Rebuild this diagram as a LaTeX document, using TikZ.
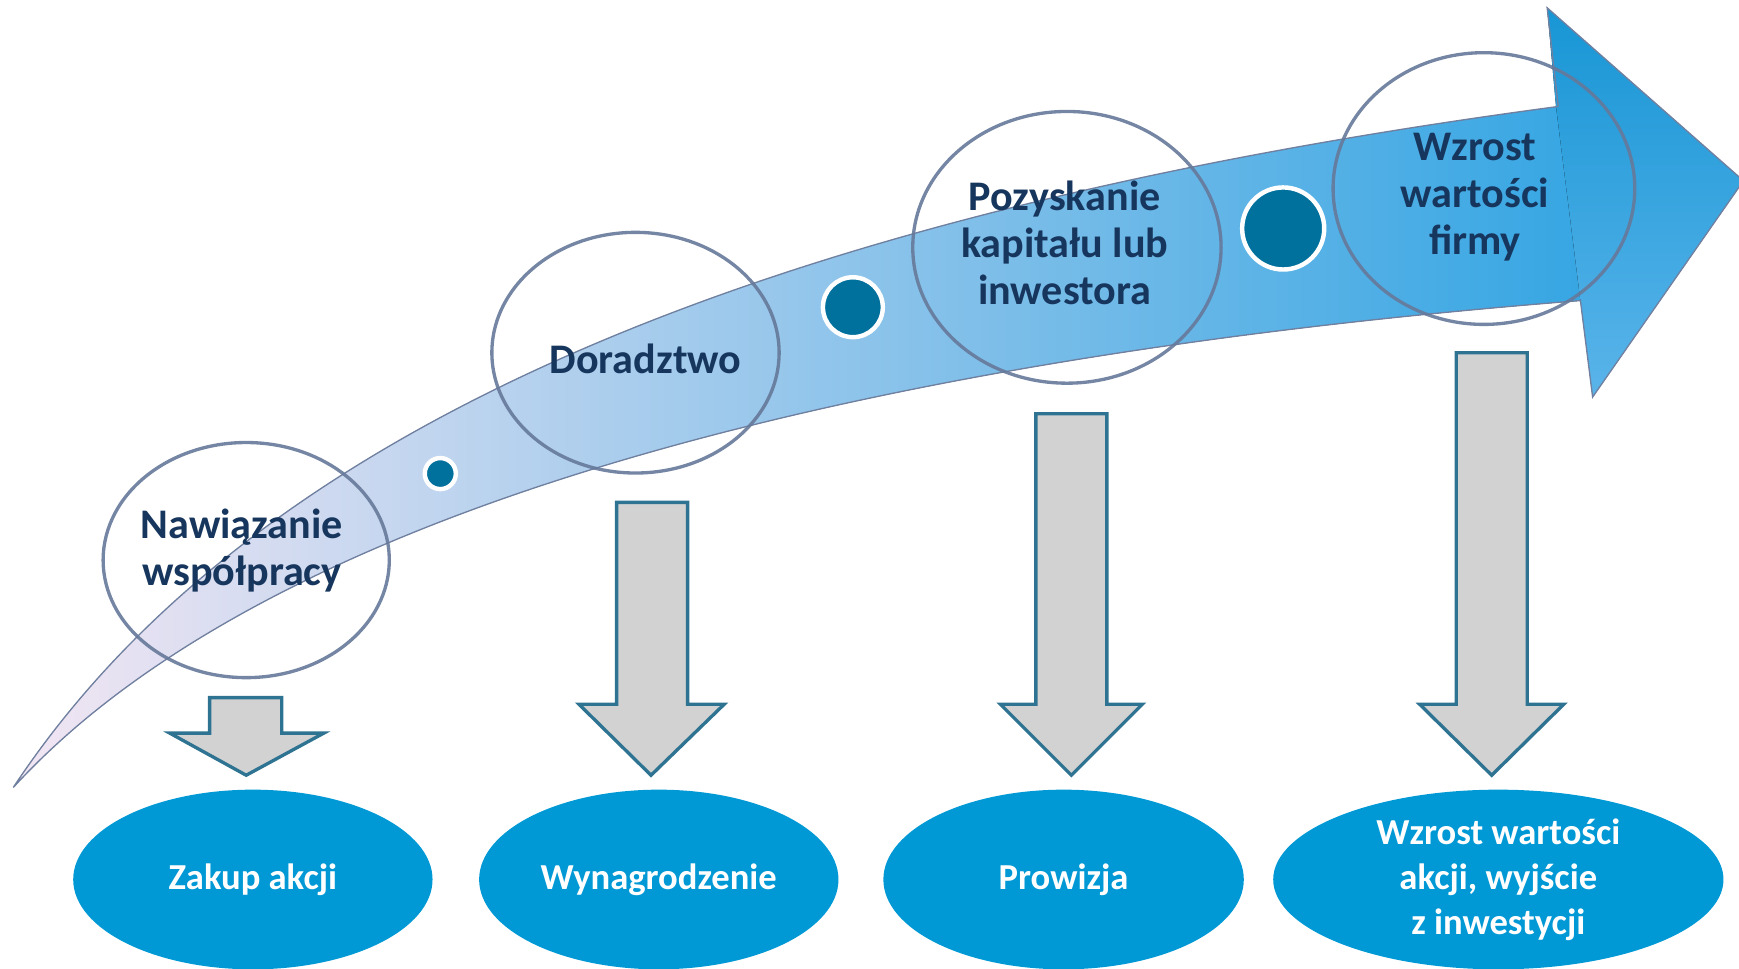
\documentclass[tikz,border=0pt]{standalone}
\usepackage{fontspec}
\setmainfont{Carlito}
\usetikzlibrary{shapes.geometric}
\definecolor{navy}{HTML}{17365D}
\definecolor{ringc}{HTML}{66799A}
\definecolor{dotc}{HTML}{00709D}
\definecolor{botc}{HTML}{0099D5}
\definecolor{dgray}{HTML}{D2D2D2}
\definecolor{dedge}{HTML}{2E7391}
\definecolor{outl}{HTML}{7080A0}
\definecolor{tailc}{HTML}{F3E6F3}
\definecolor{midc}{HTML}{93C6F6}
\definecolor{endc}{HTML}{36A6E3}
\definecolor{headt}{HTML}{1896D5}
\definecolor{headb}{HTML}{5AB4EA}
\tikzset{
  ring/.style={ellipse, draw=ringc, line width=3pt, inner sep=0pt, draw opacity=0.9},
  ringtext/.style={inner sep=0pt, align=center, text=navy,
    font=\bfseries\fontsize{38}{42.5}\selectfont},
  result/.style={ellipse, fill=botc, inner sep=0pt, align=center, text=white,
    font=\bfseries\fontsize{33}{40.5}\selectfont},
  dotnode/.style={circle, fill=dotc, draw=white, line width=4pt, inner sep=0pt},
  downarrow/.style={fill=dgray, draw=dedge, line width=3pt, line join=miter}
}
\begin{document}
\begin{tikzpicture}[x=1pt,y=-1pt]
\useasboundingbox (0,0) rectangle (1568,873);
% big curved arrow
\fill[left color=tailc, middle color=midc, right color=endc]
  (12,710) .. controls (230,380) and (700,190) .. (1407,96)
  -- (1427,271) .. controls (800,320) and (250,450) .. (12,710) -- cycle;
\fill[top color=headt, bottom color=headb]
  (1403,96) -- (1395,7) -- (1572,163) -- (1436,358) -- (1425,271) -- cycle;
\draw[outl, line width=1.2pt, line join=miter]
  (1405,96) -- (1395,7) -- (1572,163) -- (1436,358) -- (1425,271)
  .. controls (800,320) and (250,450) .. (12,710)
  .. controls (230,380) and (700,190) .. (1405,96);
% dots
\node[dotnode, minimum size=28pt] (d1) at (397,427) {};
\node[dotnode, minimum size=54pt] (d2) at (769,277) {};
\node[dotnode, minimum size=74pt] (d3) at (1157,206) {};
% top ellipses
\node[ring, minimum width=258pt, minimum height=212pt] (s1) at (222,505) {};
\node[ring, minimum width=259pt, minimum height=217pt] (s2) at (573,318) {};
\node[ring, minimum width=278pt, minimum height=245pt] (s3) at (962,223) {};
\node[ring, minimum width=272pt, minimum height=245pt] (s4) at (1338,170) {};
\node[ringtext] (t1) at (218,496) {Nawiązanie\\współpracy};
\node[ringtext] (t2) at (582,324) {Doradztwo};
\node[ringtext] (t3) at (960,219) {Pozyskanie\\kapitału lub\\inwestora};
\node[ringtext] (t4) at (1330,178) {Wzrost\\wartości\\firmy};
% down arrows
\draw[downarrow] (189,629) -- (254,629) -- (254,661) -- (292,661) -- (222,699)
  -- (153,661) -- (189,661) -- cycle;
\draw[downarrow] (556,453) -- (620,453) -- (620,635) -- (653,635) -- (587,699)
  -- (522,635) -- (556,635) -- cycle;
\draw[downarrow] (934,373) -- (998,373) -- (998,635) -- (1030,635) -- (966,699)
  -- (902,635) -- (934,635) -- cycle;
\draw[downarrow] (1313,318) -- (1377,318) -- (1377,635) -- (1410,635) -- (1345,699)
  -- (1280,635) -- (1313,635) -- cycle;
% bottom ellipses
\node[result, minimum width=324pt, minimum height=162pt] (r1) at (228,793) {Zakup akcji};
\node[result, minimum width=324pt, minimum height=162pt] (r2) at (594,793) {Wynagrodzenie};
\node[result, minimum width=325pt, minimum height=162pt] (r3) at (959,793) {Prowizja};
\node[result, minimum width=406pt, minimum height=162pt] (r4) at (1351,793) {Wzrost wartości\\akcji, wyjście\\z inwestycji};
\end{tikzpicture}
\end{document}
